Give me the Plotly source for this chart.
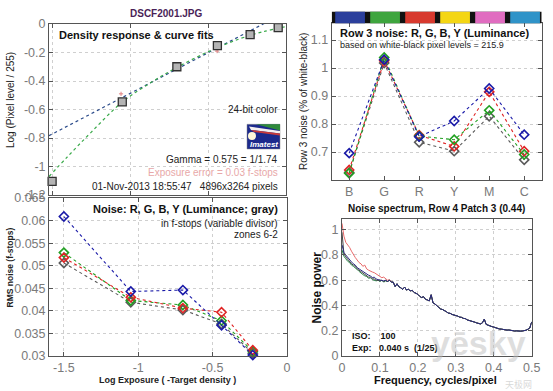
import plotly.graph_objects as go

W, H = 553, 391


def px(x):
    return x / W


def py(y):
    return 1 - y / H


# ---------------- data ----------------
# Density response (top-left)
dens_x = [-1.5, -1.05, -0.70, -0.44, -0.23, -0.05]
dens_y = [-1.105, -0.547, -0.300, -0.152, -0.074, -0.025]
gamma_fit_x = [-1.52, -0.05]
gamma_fit_y = [-0.784, 0.055]
curve_fit_x = [-1.52, -1.40, -1.25, -1.05, -0.85, -0.70, -0.50, -0.30, -0.15, 0.0]
curve_fit_y = [-1.070, -0.930, -0.760, -0.548, -0.400, -0.305, -0.195, -0.105, -0.055, -0.018]
red_pts_x = [-1.058, -0.442]
red_pts_y = [-0.49, -0.19]

# Noise in f-stops (bottom-left)
noise_x = [-1.5, -1.05, -0.70, -0.44, -0.23]
noise_r = [0.0518, 0.0430, 0.0406, 0.0397, 0.0313]
noise_g = [0.0529, 0.0423, 0.0413, 0.0378, 0.0310]
noise_b = [0.0609, 0.0443, 0.0446, 0.0368, 0.0302]
noise_l = [0.0506, 0.0419, 0.0402, 0.0371, 0.0306]

# Row 3 noise (top-right)
row3_cats = ["B", "G", "R", "Y", "M", "C"]
row3_r = [0.636, 1.026, 0.760, 0.720, 0.915, 0.703]
row3_g = [0.624, 1.038, 0.757, 0.744, 0.849, 0.691]
row3_b = [0.696, 1.030, 0.755, 0.811, 0.927, 0.762]
row3_l = [0.627, 1.018, 0.735, 0.703, 0.828, 0.672]
bar_colors = ["#2b3f9c", "#3ea53e", "#d8392e", "#f4d614", "#e06cc0", "#2f93c8"]

# Noise spectrum (bottom-right), step 0.005 cycles/pixel
spec_r_low = [1.05, 0.95, 0.90, 0.88, 0.86, 0.83, 0.80, 0.78, 0.76, 0.74, 0.73, 0.71, 0.72, 0.69,
              0.68, 0.67, 0.665, 0.66, 0.65, 0.64, 0.635, 0.62, 0.625, 0.61, 0.60, 0.605, 0.59]
spec_g_low = [0.84, 0.79, 0.77, 0.75, 0.74, 0.72, 0.71, 0.70, 0.685, 0.67, 0.655, 0.645, 0.635, 0.63,
              0.615, 0.62, 0.605, 0.60, 0.595, 0.60, 0.59, 0.60, 0.585, 0.595, 0.59, 0.60, 0.585]
spec_b_low = [0.88, 0.82, 0.80, 0.78, 0.76, 0.745, 0.73, 0.72, 0.70, 0.69, 0.68, 0.665, 0.66, 0.645,
              0.64, 0.635, 0.62, 0.625, 0.61, 0.605, 0.60, 0.60, 0.595, 0.60, 0.59, 0.60, 0.585]
spec_l_low = [0.98, 0.81, 0.785, 0.765, 0.75, 0.73, 0.72, 0.71, 0.69, 0.68, 0.665, 0.655, 0.645, 0.635,
              0.625, 0.625, 0.612, 0.61, 0.60, 0.60, 0.595, 0.60, 0.59, 0.598, 0.59, 0.60, 0.585]
spec_tail = [0.585, 0.550, 0.572, 0.548, 0.540, 0.528, 0.546, 0.522, 0.530, 0.515, 0.520, 0.503,
             0.497, 0.488, 0.472, 0.463, 0.470, 0.449, 0.444, 0.436, 0.485, 0.420, 0.412, 0.396,
             0.388, 0.372, 0.368, 0.356, 0.351, 0.340, 0.338, 0.329, 0.326, 0.318, 0.316, 0.308,
             0.306, 0.298, 0.296, 0.286, 0.283, 0.276, 0.272, 0.268, 0.262, 0.259, 0.254, 0.262,
             0.292, 0.250, 0.243, 0.238, 0.233, 0.229, 0.222, 0.220, 0.214, 0.213, 0.209, 0.210,
             0.205, 0.206, 0.202, 0.201, 0.198, 0.199, 0.196, 0.197, 0.198, 0.200, 0.204, 0.212,
             0.222, 0.270]
spec_r = spec_r_low + spec_tail
spec_g = spec_g_low + spec_tail
spec_b = spec_b_low + spec_tail
spec_l = spec_l_low + spec_tail
freq = [round(i * 0.005, 4) for i in range(len(spec_r))]

# ---------------- styles ----------------
FONT = "Liberation Sans"
C_R, C_G, C_B, C_L = "#e02424", "#22a022", "#1a1aa8", "#5a5a5a"

fig = go.Figure()

# top-left
fig.add_trace(go.Scatter(x=gamma_fit_x, y=gamma_fit_y, mode="lines", xaxis="x", yaxis="y",
                         line=dict(color="#2a4a8a", width=1.2, dash="dot")))
fig.add_trace(go.Scatter(x=curve_fit_x, y=curve_fit_y, mode="lines", xaxis="x", yaxis="y",
                         line=dict(color="#3aaa4a", width=1.2, dash="dot", shape="spline")))
fig.add_trace(go.Scatter(x=red_pts_x, y=red_pts_y, mode="markers", xaxis="x", yaxis="y",
                         marker=dict(color="#e08080", size=3, symbol="cross-thin",
                                     line=dict(color="#e08080", width=1))))
fig.add_trace(go.Scatter(x=dens_x, y=dens_y, mode="markers", xaxis="x", yaxis="y", cliponaxis=False,
                         marker=dict(symbol="square", size=8, color="#b4b4b4",
                                     line=dict(color="#303030", width=1.3))))

# bottom-left
for ys, c in [(noise_l, C_L), (noise_g, C_G), (noise_r, C_R), (noise_b, C_B)]:
    fig.add_trace(go.Scatter(x=noise_x, y=ys, mode="lines+markers", xaxis="x2", yaxis="y2",
                             cliponaxis=False,
                             line=dict(color=c, width=1.1, dash="dot"),
                             marker=dict(symbol="diamond-open", size=7, color=c,
                                         line=dict(color=c, width=1.6))))

# top-right
for ys, c in [(row3_l, C_L), (row3_r, C_R), (row3_g, C_G), (row3_b, C_B)]:
    fig.add_trace(go.Scatter(x=list(range(len(row3_cats))), y=ys, mode="lines+markers",
                             xaxis="x3", yaxis="y3", cliponaxis=False,
                             line=dict(color=c, width=1.1, dash="dot"),
                             marker=dict(symbol="diamond-open", size=7, color=c,
                                         line=dict(color=c, width=1.6))))

# bottom-right
for ys, c in [(spec_r, "#e86a6a"), (spec_g, "#2a8a4a"), (spec_l, "#444444"), (spec_b, "#2c2c80")]:
    fig.add_trace(go.Scatter(x=freq, y=ys, mode="lines", xaxis="x4", yaxis="y4",
                             line=dict(color=c, width=1)))


def axis(domain, rng, anchor, **kw):
    d = dict(domain=domain, range=rng, anchor=anchor, automargin=False, showline=True,
             linecolor="#555", linewidth=1, mirror="allticks", ticks="inside", ticklen=4,
             tickcolor="#555", showgrid=True, gridcolor="#cfcfcf", griddash="dot", gridwidth=1,
             zeroline=False, tickfont=dict(family=FONT, size=12.5, color="#7a7a7a"),
             fixedrange=True)
    d.update(kw)
    return d


TL_X = [px(49), px(286)]
TL_Y = [py(195), py(24)]
BL_X = [px(49), px(287)]
BL_Y = [py(356), py(198)]
TR_X = [px(331.7), px(541.7)]
TR_Y = [py(180), py(23.3)]
BR_X = [px(342), px(531.7)]
BR_Y = [py(356), py(219)]

tl_yt = [0, -0.2, -0.4, -0.6, -0.8, -1, -1.2]
bl_yt = [0.03, 0.035, 0.04, 0.045, 0.05, 0.055, 0.06, 0.065]
bl_xt = [-1.5, -1, -0.5, 0]
tr_yt = [0.7, 0.8, 0.9, 1.0, 1.1]
br_yt = [0, 0.2, 0.4, 0.6, 0.8, 1]
br_xt = [0, 0.1, 0.2, 0.3, 0.4, 0.5]

fig.update_layout(
    width=W, height=H, margin=dict(l=0, r=0, t=0, b=0, autoexpand=False),
    paper_bgcolor="white", plot_bgcolor="white", showlegend=False,
    xaxis=axis(TL_X, [-1.52, 0], "y", tickvals=[-1.5, -1, -0.5], showticklabels=False),
    yaxis=axis(TL_Y, [-1.2, 0], "x", tickvals=tl_yt, ticktext=["%g" % v for v in tl_yt]),
    xaxis2=axis(BL_X, [-1.6, 0], "y2", tickvals=bl_xt, ticktext=["%g" % v for v in bl_xt]),
    yaxis2=axis(BL_Y, [0.03, 0.065], "x2", tickvals=bl_yt, ticktext=["%g" % v for v in bl_yt]),
    xaxis3=axis(TR_X, [-0.5, 5.5], "y3", tickvals=list(range(len(row3_cats))), ticktext=row3_cats,
                showgrid=False),
    yaxis3=axis(TR_Y, [0.6, 1.16], "x3", tickvals=tr_yt, ticktext=["%g" % v for v in tr_yt]),
    xaxis4=axis(BR_X, [0, 0.5], "y4", tickvals=br_xt, ticktext=["%g" % v for v in br_xt]),
    yaxis4=axis(BR_Y, [0, 1.085], "x4", tickvals=br_yt, ticktext=["%g" % v for v in br_yt]),
)

shapes = []
# colour bar above row-3 plot
shapes.append(dict(type="rect", xref="x3", yref="paper", x0=-0.5, x1=5.5, y0=py(23.3), y1=py(11.7),
                   fillcolor="#111", line=dict(width=0), layer="above"))
for i, c in enumerate(bar_colors):
    shapes.append(dict(type="rect", xref="x3", yref="paper", x0=i - 0.4, x1=i + 0.45,
                       y0=py(23.3), y1=py(11.7), fillcolor=c, line=dict(width=0), layer="above"))


def ppath(points):
    return "M " + " L ".join("%f,%f" % (px(a), py(b)) for a, b in points) + " Z"


# Imatest logo
shapes.append(dict(type="rect", xref="paper", yref="paper", x0=px(247), x1=px(280), y0=py(149),
                   y1=py(124.3), fillcolor="#1c2a8c", line=dict(color="#888", width=0.5)))
shapes.append(dict(type="path", xref="paper", yref="paper",
                   path=ppath([(256, 124.3), (280, 124.3), (280, 130.5)]),
                   fillcolor="#2f8a3a", line=dict(width=0)))
shapes.append(dict(type="path", xref="paper", yref="paper",
                   path=ppath([(249, 126.5), (280, 131), (280, 133.5), (251, 130)]),
                   fillcolor="#f4f0f0", line=dict(width=0)))
shapes.append(dict(type="path", xref="paper", yref="paper",
                   path=ppath([(251, 130), (280, 133.5), (280, 135.5), (254, 132)]),
                   fillcolor="#c83a3a", line=dict(width=0)))
shapes.append(dict(type="circle", xref="paper", yref="paper", x0=px(248), x1=px(256), y0=py(140),
                   y1=py(132), fillcolor="#fff8d8", line=dict(width=0)))
fig.update_layout(shapes=shapes)

ann = []


def text(x, y, s, size=10, color="#111", bold=False, xanchor="center", italic=False, angle=0,
         family=FONT):
    if bold:
        s = "<b>" + s + "</b>"
    if italic:
        s = "<i>" + s + "</i>"
    ann.append(dict(x=px(x), y=py(y), xref="paper", yref="paper", text=s, showarrow=False,
                    xanchor=xanchor, yanchor="middle", textangle=angle,
                    font=dict(family=family, size=size, color=color)))


text(166, 13, "DSCF2001.JPG", size=10, color="#4a1f58", bold=True)
text(57, 35, "Density response & curve fits", size=11, bold=True, xanchor="left")
text(280, 110, "24-bit color", size=10, color="#222", xanchor="right")
text(264, 144, "Imatest", size=8, color="white", bold=True, italic=True)
text(280, 159.5, "Gamma = 0.575 = 1/1.74", size=10, color="#222", xanchor="right")
text(280, 173, "Exposure error = 0.03 f-stops", size=10, color="#e8a8a8", xanchor="right")
text(280, 186.5, "01-Nov-2013 18:55:47   4896x3264 pixels", size=10, color="#222", xanchor="right")
text(11, 100, "Log (Pixel level / 255)", size=10, color="#222", angle=-90)

text(280, 209, "Noise: R, G, B, Y (Luminance; gray)", size=11, bold=True, xanchor="right")
text(280, 223.5, "in f-stops (variable divisor)", size=10, color="#222", xanchor="right")
text(280, 234.5, "zones 6-2", size=10, color="#222", xanchor="right")
text(9.5, 268, "RMS noise (f-stops)", size=8.5, color="#222", bold=True, angle=-90)
text(167, 380, "Log Exposure ( -Target density )", size=9, color="#222", bold=True)

text(337.5, 33.5, "Row 3 noise: R, G, B, Y (Luminance)", size=11, bold=True, xanchor="left")
text(337.5, 45, "based on white-black pixel levels = 215.9", size=9, color="#222", xanchor="left")
text(303, 102, "Row 3 noise (% of white-black)", size=10, color="#222", angle=-90)

text(436, 208.5, "Noise spectrum, Row 4 Patch 3 (0.44)", size=10, color="#111", bold=True)
text(316, 287.5, "Noise power", size=12, color="#111", bold=True, angle=-90)
text(435, 379.5, "Frequency, cycles/pixel", size=11, color="#111", bold=True)
text(350, 335.5, "ISO:&nbsp;&nbsp;&nbsp;&nbsp;100", size=9, color="#111", bold=True, xanchor="left")
text(350, 347.5, "Exp:&nbsp;&nbsp;&nbsp;0.040 s&nbsp;&nbsp;(1/25)", size=9, color="#111", bold=True,
     xanchor="left")
text(478, 343, "yēsky", size=34, color="rgba(190,190,190,0.5)", bold=True)
text(518, 384.5, "天极网", size=9, color="rgba(190,190,190,0.6)", family="Noto Sans CJK SC")

fig.update_layout(annotations=ann)

fig.write_html("out.html", config={"displayModeBar": False},
               post_script="document.body.style.margin='0';document.body.style.padding='0';")
